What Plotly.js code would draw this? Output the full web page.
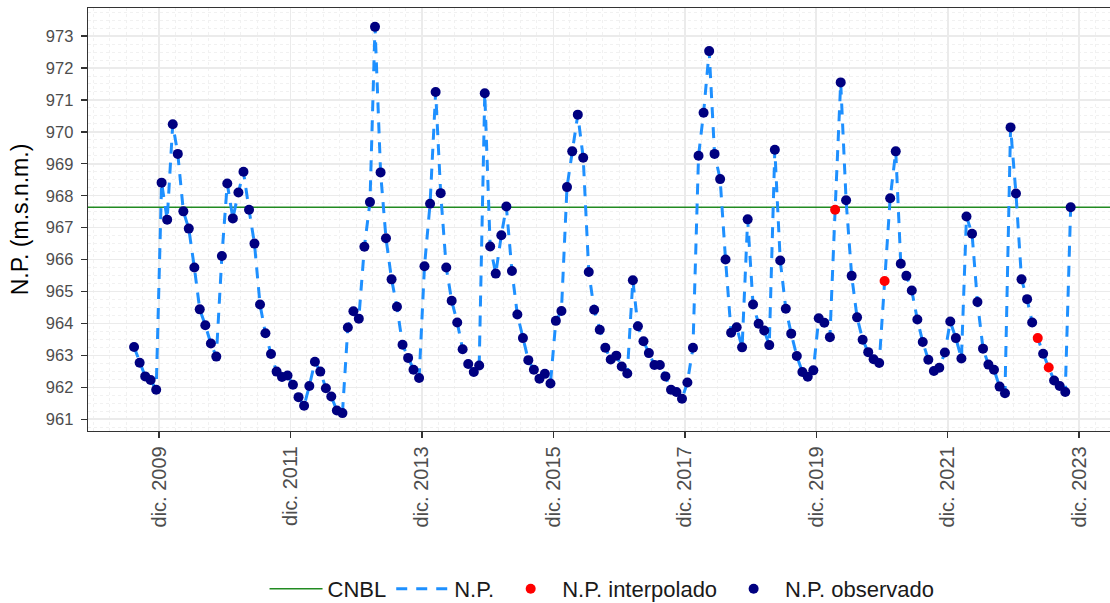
<!DOCTYPE html>
<html>
<head>
<meta charset="utf-8">
<script src="https://cdn.plot.ly/plotly-3.0.1.min.js"></script>
<style>
html,body{margin:0;padding:0;overflow:hidden;background:#fff;width:1110px;height:603px}
#chart{width:1125px;height:603px}
</style>
</head>
<body>
<div id="chart"></div>
<script>
// ---- Data ----
const fechas = [
"2009-07-15","2009-08-15","2009-09-15","2009-10-15","2009-11-15","2009-12-15",
"2010-01-15","2010-02-15","2010-03-15","2010-04-15","2010-05-15","2010-06-15","2010-07-15","2010-08-15","2010-09-15","2010-10-15","2010-11-15","2010-12-15",
"2011-01-15","2011-02-15","2011-03-15","2011-04-15","2011-05-15","2011-06-15","2011-07-15","2011-08-15","2011-09-15","2011-10-15","2011-11-15","2011-12-15",
"2012-01-15","2012-02-15","2012-03-15","2012-04-15","2012-05-15","2012-06-15","2012-07-15","2012-08-15","2012-09-15","2012-10-15","2012-11-15","2012-12-15",
"2013-01-15","2013-02-15","2013-03-15","2013-04-15","2013-05-15","2013-06-15","2013-07-15","2013-08-15","2013-09-15","2013-10-15","2013-11-15","2013-12-15",
"2014-01-15","2014-02-15","2014-03-15","2014-04-15","2014-05-15","2014-06-15","2014-07-15","2014-08-15","2014-09-15","2014-10-15","2014-11-15","2014-12-15",
"2015-01-15","2015-02-15","2015-03-15","2015-04-15","2015-05-15","2015-06-15","2015-07-15","2015-08-15","2015-09-15","2015-10-15","2015-11-15","2015-12-15",
"2016-01-15","2016-02-15","2016-03-15","2016-04-15","2016-05-15","2016-06-15","2016-07-15","2016-08-15","2016-09-15","2016-10-15","2016-11-15","2016-12-15",
"2017-01-15","2017-02-15","2017-03-15","2017-04-15","2017-05-15","2017-06-15","2017-07-15","2017-08-15","2017-09-15","2017-10-15","2017-11-15","2017-12-15",
"2018-01-15","2018-02-15","2018-03-15","2018-04-15","2018-05-15","2018-06-15","2018-07-15","2018-08-15","2018-09-15","2018-10-15","2018-11-15","2018-12-15",
"2019-01-15","2019-02-15","2019-03-15","2019-04-15","2019-05-15","2019-06-15","2019-07-15","2019-08-15","2019-09-15","2019-10-15","2019-11-15","2019-12-15",
"2020-01-15","2020-02-15","2020-03-15","2020-04-15","2020-05-15","2020-06-15","2020-07-15","2020-08-15","2020-09-15","2020-10-15","2020-11-15","2020-12-15",
"2021-01-15","2021-02-15","2021-03-15","2021-04-15","2021-05-15","2021-06-15","2021-07-15","2021-08-15","2021-09-15","2021-10-15","2021-11-15","2021-12-15",
"2022-01-15","2022-02-15","2022-03-15","2022-04-15","2022-05-15","2022-06-15","2022-07-15","2022-08-15","2022-09-15","2022-10-15","2022-11-15","2022-12-15",
"2023-01-15","2023-02-15","2023-03-15","2023-04-15","2023-05-15","2023-06-15","2023-07-15","2023-08-15","2023-09-15","2023-10-15"
];

const nivelPiezometrico = [
963.26,962.77,962.34,962.23,961.92,968.41,
967.25,970.24,969.31,967.51,966.97,965.75,964.44,963.94,963.37,962.96,966.11,968.38,
967.29,968.10,968.75,967.56,966.50,964.59,963.69,963.04,962.49,962.32,962.37,962.08,
961.69,961.42,962.04,962.80,962.49,961.97,961.71,961.27,961.19,963.87,964.38,964.15,
966.40,967.80,973.29,968.73,966.67,965.38,964.52,963.33,962.92,962.55,962.29,965.79,
967.75,971.25,968.08,965.75,964.71,964.03,963.19,962.73,962.48,962.68,971.21,966.41,
965.56,966.76,967.66,965.64,964.28,963.54,962.85,962.55,962.27,962.42,962.12,964.08,
964.39,968.27,969.39,970.54,969.19,965.61,964.43,963.80,963.24,962.87,962.99,962.65,
962.43,965.35,963.91,963.44,963.07,962.70,962.70,962.34,961.92,961.85,961.64,962.15,
963.24,969.25,970.60,972.53,969.31,968.52,966.00,963.71,963.88,963.25,967.26,964.59,
963.99,963.78,963.32,969.44,965.97,964.46,963.68,962.98,962.48,962.33,962.53,964.16,
964.02,963.57,967.56,971.55,967.86,965.49,964.19,963.49,963.10,962.88,962.76,965.33,
967.92,969.39,965.87,965.49,965.03,964.12,963.42,962.86,962.51,962.61,963.09,964.06,
963.54,962.90,967.35,966.81,964.67,963.21,962.71,962.55,962.02,961.81,970.14,968.07,
965.38,964.76,964.03,963.54,963.05,962.62,962.21,962.04,961.85,967.64
];

// Months whose value is interpolated (red points)
const fechasInterpoladas = ["2020-03-15","2020-12-15","2023-04-15","2023-06-15"];

// Reference level CNBL
const nivelCNBL = 967.64;

// Axis ticks
const tickFechas = ["2009-12-01","2011-12-01","2013-12-01","2015-12-01","2017-12-01","2019-12-01","2021-12-01","2023-12-01"];
const tickTextos = ["dic. 2009","dic. 2011","dic. 2013","dic. 2015","dic. 2017","dic. 2019","dic. 2021","dic. 2023"];
const yTicks = [961,962,963,964,965,966,967,968,969,970,971,972,973];

// ---- Build traces ----
const xRange = ["2008-11-01","2024-08-12"];
const yRange = [960.63, 973.88];

const obsX = [], obsY = [], intX = [], intY = [];
fechas.forEach((f, i) => {
  if (fechasInterpoladas.includes(f)) { intX.push(f); intY.push(nivelPiezometrico[i]); }
  else { obsX.push(f); obsY.push(nivelPiezometrico[i]); }
});

const traces = [
  {
    type: 'scatter', mode: 'lines', name: 'CNBL',
    x: xRange, y: [nivelCNBL, nivelCNBL],
    line: {color: '#228B22', width: 1.6},
    hoverinfo: 'skip'
  },
  {
    type: 'scatter', mode: 'lines', name: 'N.P.',
    x: fechas, y: nivelPiezometrico,
    line: {color: '#1E90FF', width: 3, dash: '11px,9px'}
  },
  {
    type: 'scatter', mode: 'markers', name: 'N.P. interpolado',
    x: intX, y: intY,
    marker: {color: '#FF0000', size: 10}
  },
  {
    type: 'scatter', mode: 'markers', name: 'N.P. observado',
    x: obsX, y: obsY,
    marker: {color: '#000080', size: 10}
  }
];

const layout = {
  width: 1125, height: 603,
  margin: {l: 88, r: 0, t: 8, b: 172, autoexpand: false},
  paper_bgcolor: '#ffffff', plot_bgcolor: '#ffffff',
  font: {family: '"Liberation Sans", Arial, sans-serif', color: '#4D4D4D'},
  showlegend: true,
  hovermode: false,
  legend: {
    orientation: 'h', x: 0.4957, xanchor: 'center', y: -0.3735, yanchor: 'middle',
    itemwidth: 53,
    font: {size: 22, color: '#1A1A1A'}, bgcolor: 'rgba(0,0,0,0)', traceorder: 'normal'
  },
  xaxis: {
    type: 'date', range: xRange,
    tickmode: 'array', tickvals: tickFechas, ticktext: tickTextos,
    tickangle: -90, tickfont: {size: 20, color: '#4D4D4D'},
    ticks: 'outside', ticklen: 6, tickwidth: 1.3, tickcolor: '#333333',
    showgrid: true, gridcolor: '#EBEBEB', gridwidth: 1.5,
    minor: {dtick: 'M3', tick0: '2009-12-01', showgrid: true, gridcolor: '#F1F1F1', griddash: 'dot', gridwidth: 1, ticks: ''},
    showline: true, mirror: true, linecolor: '#333333', linewidth: 1.3,
    zeroline: false, automargin: false
  },
  yaxis: {
    range: yRange,
    tickmode: 'array', tickvals: yTicks,
    tickfont: {size: 16.5, color: '#4D4D4D'},
    ticks: 'outside', ticklen: 6, tickwidth: 1.3, tickcolor: '#333333',
    ticklabelstandoff: 4,
    showgrid: true, gridcolor: '#EBEBEB', gridwidth: 1.5,
    minor: {dtick: 0.25, tick0: 961, showgrid: true, gridcolor: '#F1F1F1', griddash: 'dot', gridwidth: 1, ticks: ''},
    showline: true, mirror: true, linecolor: '#333333', linewidth: 1.3,
    zeroline: false, automargin: false,
    title: {text: 'N.P. (m.s.n.m.)', font: {size: 23, color: '#000000'}, standoff: 10}
  }
};

Plotly.newPlot('chart', traces, layout, {staticPlot: true, displayModeBar: false});
</script>
</body>
</html>
